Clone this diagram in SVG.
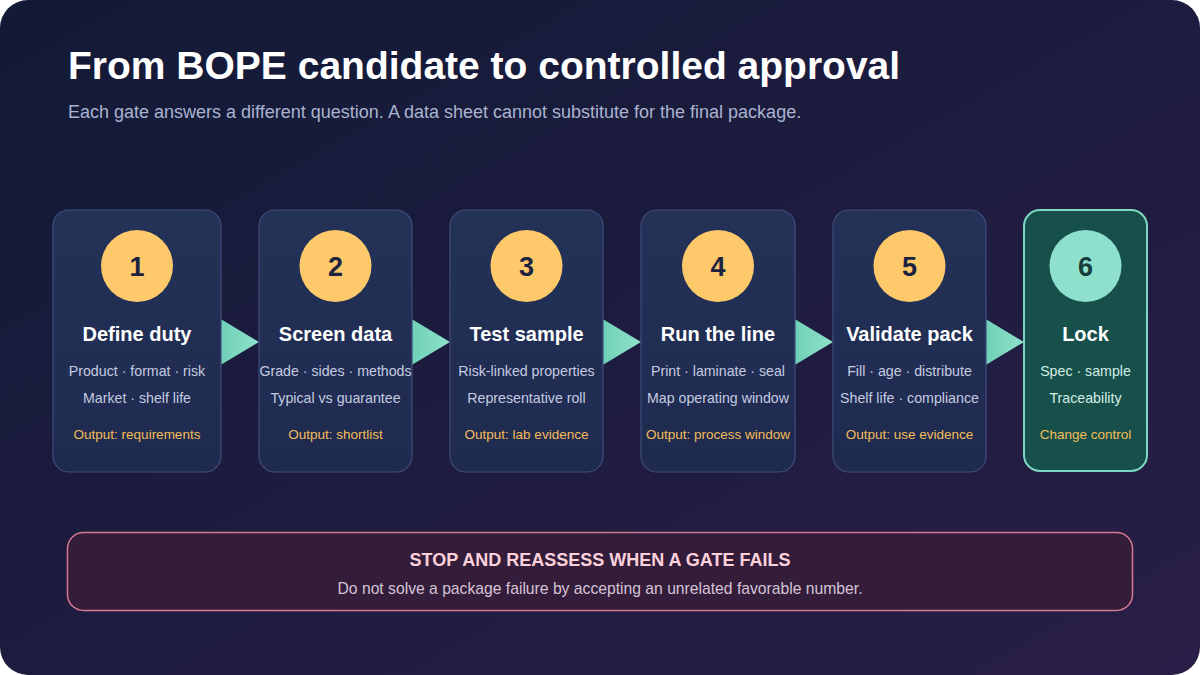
<svg xmlns="http://www.w3.org/2000/svg" width="1200" height="675" viewBox="0 0 1200 675">
<defs>
<linearGradient id="bg" x1="0" y1="0" x2="1" y2="1">
<stop offset="0" stop-color="#121a36"/>
<stop offset="1" stop-color="#291e47"/>
</linearGradient>
<linearGradient id="card" x1="0" y1="0" x2="0" y2="1">
<stop offset="0" stop-color="#243258"/>
<stop offset="1" stop-color="#1f2a4f"/>
</linearGradient>
<linearGradient id="arr" x1="0" y1="0" x2="1" y2="0">
<stop offset="0" stop-color="#6fcfb6"/>
<stop offset="1" stop-color="#8fe2cc"/>
</linearGradient>
<style>
.card{fill:url(#card);stroke:#3e4d7c;stroke-width:1.2}
.cardL{fill:#17504b;stroke:#7ed8c1;stroke-width:2}
.num{fill:#fdc96a}
.numL{fill:#8edfcc}
.nt{font-family:"Liberation Sans",Arial,sans-serif;font-weight:bold;font-size:27px;fill:#1c2340;text-anchor:middle}
.ntL{fill:#163d3a}
.ti{font-family:"Liberation Sans",Arial,sans-serif;font-weight:bold;font-size:20px;fill:#ffffff;text-anchor:middle}
.bd{font-family:"Liberation Sans",Arial,sans-serif;font-size:14.2px;fill:#c4cbe0;text-anchor:middle}
.bdL{fill:#d3eee6}
.out{font-family:"Liberation Sans",Arial,sans-serif;font-size:13.5px;fill:#f4bd58;text-anchor:middle}
.arrow{fill:url(#arr)}
</style>
</defs>
<rect width="1200" height="675" fill="#ffffff"/>
<rect x="0" y="0" width="1200" height="675" rx="28" fill="url(#bg)"/>
<text x="68" y="79" font-family="Liberation Sans,Arial,sans-serif" font-weight="bold" font-size="39" fill="#ffffff">From BOPE candidate to controlled approval</text>
<text x="68" y="118" font-family="Liberation Sans,Arial,sans-serif" font-size="18" fill="#a9b3cf">Each gate answers a different question. A data sheet cannot substitute for the final package.</text>

<g id="connectors">
<polygon class="arrow" points="219,318 259,342 219,366"/>
<polygon class="arrow" points="410,318 450,342 410,366"/>
<polygon class="arrow" points="601,318 641,342 601,366"/>
<polygon class="arrow" points="793,318 833,342 793,366"/>
<polygon class="arrow" points="984,318 1024,342 984,366"/>
</g>

<g id="step1">
<rect class="card" x="53" y="210" width="168" height="262" rx="16"/>
<circle class="num" cx="137" cy="266" r="36"/>
<text class="nt" x="137" y="276">1</text>
<text class="ti" x="137" y="341">Define duty</text>
<text class="bd" x="137" y="376">Product · format · risk</text>
<text class="bd" x="137" y="403">Market · shelf life</text>
<text class="out" x="137" y="439">Output: requirements</text>
</g>
<g id="step2">
<rect class="card" x="259" y="210" width="153" height="262" rx="16"/>
<circle class="num" cx="335.5" cy="266" r="36"/>
<text class="nt" x="335.5" y="276">2</text>
<text class="ti" x="335.5" y="341">Screen data</text>
<text class="bd" x="335.5" y="376">Grade · sides · methods</text>
<text class="bd" x="335.5" y="403">Typical vs guarantee</text>
<text class="out" x="335.5" y="439">Output: shortlist</text>
</g>
<g id="step3">
<rect class="card" x="450" y="210" width="153" height="262" rx="16"/>
<circle class="num" cx="526.5" cy="266" r="36"/>
<text class="nt" x="526.5" y="276">3</text>
<text class="ti" x="526.5" y="341">Test sample</text>
<text class="bd" x="526.5" y="376">Risk-linked properties</text>
<text class="bd" x="526.5" y="403">Representative roll</text>
<text class="out" x="526.5" y="439">Output: lab evidence</text>
</g>
<g id="step4">
<rect class="card" x="641" y="210" width="154" height="262" rx="16"/>
<circle class="num" cx="718" cy="266" r="36"/>
<text class="nt" x="718" y="276">4</text>
<text class="ti" x="718" y="341">Run the line</text>
<text class="bd" x="718" y="376">Print · laminate · seal</text>
<text class="bd" x="718" y="403">Map operating window</text>
<text class="out" x="718" y="439">Output: process window</text>
</g>
<g id="step5">
<rect class="card" x="833" y="210" width="153" height="262" rx="16"/>
<circle class="num" cx="909.5" cy="266" r="36"/>
<text class="nt" x="909.5" y="276">5</text>
<text class="ti" x="909.5" y="341">Validate pack</text>
<text class="bd" x="909.5" y="376">Fill · age · distribute</text>
<text class="bd" x="909.5" y="403">Shelf life · compliance</text>
<text class="out" x="909.5" y="439">Output: use evidence</text>
</g>
<g id="step6">
<rect class="cardL" x="1024" y="210" width="123" height="261" rx="16"/>
<circle class="numL" cx="1085.5" cy="266" r="36"/>
<text class="nt ntL" x="1085.5" y="276">6</text>
<text class="ti" x="1085.5" y="341">Lock</text>
<text class="bd bdL" x="1085.5" y="376">Spec · sample</text>
<text class="bd bdL" x="1085.5" y="403">Traceability</text>
<text class="out" x="1085.5" y="439">Change control</text>
</g>

<g id="stop">
<rect x="67.5" y="532.5" width="1065" height="78" rx="16" fill="#331d3a" stroke="#d57990" stroke-width="1.5"/>
<text x="600" y="566" font-family="Liberation Sans,Arial,sans-serif" font-weight="bold" font-size="18" fill="#fdd1da" text-anchor="middle">STOP AND REASSESS WHEN A GATE FAILS</text>
<text x="600" y="594" font-family="Liberation Sans,Arial,sans-serif" font-size="15.7" fill="#d6c4d6" text-anchor="middle">Do not solve a package failure by accepting an unrelated favorable number.</text>
</g>
</svg>
